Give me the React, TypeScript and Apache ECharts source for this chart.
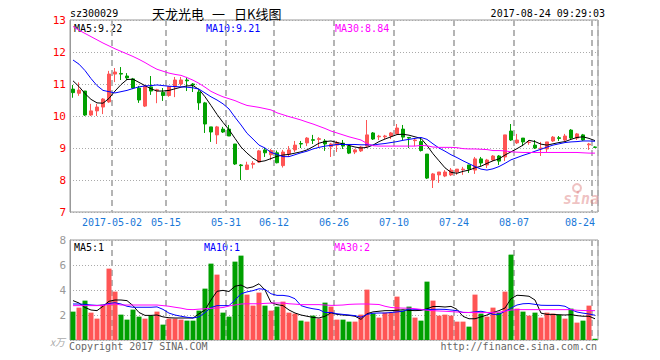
import React, { useEffect, useRef } from 'react';
import * as echarts from 'echarts';

const dates = [
  '2017-04-20','2017-04-21','2017-04-24','2017-04-25','2017-04-26','2017-04-27','2017-04-28',
  '2017-05-02','2017-05-03','2017-05-04','2017-05-05','2017-05-08','2017-05-09','2017-05-10','2017-05-11','2017-05-12','2017-05-15','2017-05-16','2017-05-17','2017-05-18','2017-05-19','2017-05-22','2017-05-23','2017-05-24','2017-05-25','2017-05-26','2017-05-31',
  '2017-06-01','2017-06-02','2017-06-05','2017-06-06','2017-06-07','2017-06-08','2017-06-09','2017-06-12','2017-06-13','2017-06-14','2017-06-15','2017-06-16','2017-06-19','2017-06-20','2017-06-21','2017-06-22','2017-06-23','2017-06-26','2017-06-27','2017-06-28','2017-06-29','2017-06-30',
  '2017-07-03','2017-07-04','2017-07-05','2017-07-06','2017-07-07','2017-07-10','2017-07-11','2017-07-12','2017-07-13','2017-07-14','2017-07-17','2017-07-18','2017-07-19','2017-07-20','2017-07-21','2017-07-24','2017-07-25','2017-07-26','2017-07-27','2017-07-28','2017-07-31',
  '2017-08-01','2017-08-02','2017-08-03','2017-08-04','2017-08-07','2017-08-08','2017-08-09','2017-08-10','2017-08-11','2017-08-14','2017-08-15','2017-08-16','2017-08-17','2017-08-18','2017-08-21','2017-08-22','2017-08-23','2017-08-24'
];

const tickDates = ['2017-05-02','2017-05-15','2017-05-31','2017-06-12','2017-06-26','2017-07-10','2017-07-24','2017-08-07','2017-08-24'];

const opens = [10.84,10.71,10.78,10.03,10.16,10.28,10.44,11.31,11.33,11.25, 11.16,10.875,10.31,10.91,10.79,10.74,10.64,10.91,11.0,11.125, 11.0,10.75,10.41,9.66,9.41,9.59,9.59,9.125,8.47,8.33, 8.49,8.56,8.94,8.79,8.85,8.45,8.81,8.94,9.14,9.16, 9.26,9.27,9.22,9.04,9.09,9.15,9.06,8.875,8.91,9.06, 9.47,9.35,9.35,9.375,9.44,9.59,9.33,9.23,9.2,8.81, 8.0,8.16,8.125,8.16,8.25,8.32,8.47,8.31,8.66,8.47, 8.625,8.75,8.72,9.53,9.16,9.31,9.17,9.09,8.98,8.97, 9.22,9.32,9.25,9.56,9.31,9.41,9.1,9.03];
const closes = [10.73,10.81,10.03,10.16,10.28,10.53,11.31,11.375,11.31,11.19, 10.875,10.5,10.94,10.78,10.82,10.64,10.92,11.125,11.125,11.1, 10.97,10.41,9.75,9.5,9.66,9.5,9.375,8.5,8.45,8.47, 8.52,8.91,8.85,8.92,8.54,8.875,8.94,9.09,9.125,9.31, 9.24,9.29,9.125,9.125,9.17,9.06,8.84,8.94,9.03,9.41, 9.28,9.37,9.375,9.47,9.625,9.34,9.31,9.25,8.92,8.06, 8.19,8.25,8.25,8.31,8.34,8.34,8.34,8.66,8.53,8.625, 8.75,8.59,9.41,9.25,9.25,9.19,9.18,9.0,9.0,9.19, 9.34,9.3,9.375,9.31,9.44,9.25,9.125,9.02];
const lows = [10.57,10.63,10.0,10.0,10.0,10.06,10.41,11.06,11.125,11.125, 10.84,10.41,10.28,10.66,10.4,10.47,10.6,10.59,10.94,10.78, 10.75,10.19,9.47,9.19,9.125,9.47,9.375,8.47,8.0,8.31, 8.36,8.53,8.72,8.62,8.52,8.39,8.72,8.875,9.0,9.06, 9.125,9.03,8.91,8.72,8.875,8.97,8.81,8.81,8.875,9.03, 9.25,9.25,9.28,9.28,9.44,9.25,9.0,9.06,8.89,8.03, 7.75,7.91,8.09,8.125,8.16,8.16,8.22,8.19,8.44,8.375, 8.59,8.47,8.59,9.22,9.125,9.06,9.1,8.97,8.75,8.875, 9.19,9.22,9.22,9.28,9.25,9.22,8.94,9.0];
const highs = [10.97,11.05,10.78,10.38,10.38,10.56,11.41,11.5,11.53,11.34, 11.19,10.94,10.97,11.25,10.85,10.875,10.94,11.22,11.22,11.22, 11.03,10.81,10.44,9.66,9.69,9.66,9.72,9.125,8.5,8.57, 8.59,8.94,9.0,8.97,8.92,8.94,9.06,9.22,9.22,9.34, 9.41,9.34,9.28,9.16,9.22,9.25,9.09,8.97,9.06,9.875, 9.5,9.41,9.41,9.5,9.75,9.72,9.34,9.31,9.3,8.81, 8.22,8.25,8.31,8.375,8.34,8.41,8.47,8.72,8.72,8.66, 8.78,8.78,9.41,9.75,9.44,9.31,9.25,9.25,9.19,9.19, 9.375,9.375,9.44,9.59,9.47,9.44,9.16,9.05];

const ma5 = [11.1,10.92,10.7,10.52,10.41,10.4,10.55,10.78,10.98,11.14, 11.15,11.05,10.95,10.85,10.78,10.78,10.8,10.85,10.9,10.94, 10.95,10.83,10.6,10.33,10.05,9.8,9.57,9.3,9.03,8.84, 8.68,8.57,8.6,8.67,8.74,8.78,8.8,8.84,8.88,8.94, 9.04,9.15,9.2,9.22,9.17,9.13,9.08,9.03,9.0,9.02, 9.09,9.2,9.28,9.35,9.42,9.43,9.4,9.35,9.3,9.08, 8.82,8.6,8.38,8.24,8.21,8.27,8.31,8.38,8.43,8.52, 8.6,8.66,8.78,8.88,8.98,9.09,9.24,9.2,9.12,9.09, 9.13,9.17,9.2,9.27,9.33,9.35,9.3,9.23];
const ma10 = [11.75,11.62,11.42,11.17,10.95,10.8,10.76,10.72,10.76,10.8, 10.86,10.91,10.94,10.95,10.97,10.95,10.93,10.92,10.91,10.9, 10.88,10.84,10.72,10.6,10.5,10.38,10.22,9.96,9.72,9.46, 9.28,9.09,9.0,8.86,8.8,8.73,8.73,8.79,8.85,8.9, 8.97,9.02,9.06,9.08,9.11,9.11,9.11,9.11,9.1,9.1, 9.09,9.12,9.14,9.17,9.2,9.24,9.27,9.3,9.33,9.27, 9.13,9.0,8.9,8.79,8.7,8.6,8.51,8.42,8.34,8.31, 8.35,8.42,8.52,8.63,8.7,8.77,8.83,8.9,8.96,9.03, 9.09,9.13,9.17,9.19,9.2,9.22,9.22,9.21];
const ma30 = [12.8,12.68,12.58,12.48,12.38,12.28,12.19,12.1,12.02,11.94, 11.86,11.77,11.67,11.56,11.46,11.4,11.34,11.3,11.27,11.2, 11.12,11.02,10.9,10.77,10.68,10.6,10.54,10.48,10.4,10.33, 10.3,10.27,10.23,10.19,10.1,10.04,9.98,9.93,9.875,9.81, 9.75,9.68,9.61,9.53,9.47,9.41,9.35,9.3,9.25,9.14, 9.07,9.06,9.06,9.06,9.06,9.06,9.06,9.06,9.08,9.07, 9.03,9.02,9.02,9.02,9.01,8.98,8.97,8.97,8.96,8.95, 8.92,8.92,8.91,8.88,8.87,8.86,8.86,8.86,8.86,8.86, 8.86,8.86,8.86,8.86,8.86,8.85,8.84,8.84];

const volumes = [2.27,2.59,3.15,2.19,1.71,2.83,5.71,3.87,2.03,1.63, 2.43,1.87,1.71,1.95,2.27,1.23,1.71,1.71,1.63,1.55, 1.55,2.35,4.11,6.11,5.23,2.19,1.87,6.27,6.75,3.63, 2.75,3.79,2.75,2.35,2.67,3.07,2.19,2.11,1.55,1.47, 1.95,1.71,2.99,2.67,1.63,1.63,1.47,1.47,2.03,4.03, 2.11,1.79,2.19,2.19,3.47,2.35,2.67,1.79,1.55,4.67, 3.15,1.95,2.03,1.95,1.47,1.47,1.07,3.63,2.11,1.87, 2.59,2.19,3.87,6.83,2.51,2.27,1.95,2.19,1.79,2.19, 2.11,2.03,1.71,2.51,1.39,1.55,2.75,0.1];
const volMa5 = [3.15,2.96,2.6,2.4,2.35,2.7,3.1,3.2,3.2,3.15, 2.75,2.2,1.97,1.97,2.0,1.85,1.78,1.76,1.76,1.76, 1.76,2.1,2.4,3.2,3.9,3.97,3.88,4.3,4.4,4.15, 4.25,4.5,4.0,3.0,2.83,2.75,2.4,2.16,2.0,1.9, 1.81,1.76,1.9,2.18,2.05,2.0,1.97,1.9,1.65,2.1, 2.25,2.3,2.35,2.35,2.38,2.42,2.37,2.35,2.37,2.5, 2.68,2.68,2.64,2.69,2.45,1.89,1.7,1.7,1.85,2.0, 2.2,2.35,2.56,3.3,3.58,3.55,3.5,3.2,2.15,2.05, 2.05,2.02,2.0,2.03,1.95,1.9,1.9,1.7];
const volMa10 = [2.88,2.88,2.85,2.8,2.77,2.8,2.92,2.98,2.88,2.7, 2.62,2.62,2.62,2.62,2.65,2.45,2.15,2.0,1.9,1.82, 1.76,1.85,2.2,2.6,2.75,2.75,2.75,3.2,3.7,3.85, 3.95,4.1,4.05,3.7,3.57,3.57,3.5,3.3,2.75,2.6, 2.5,2.43,2.2,2.2,2.1,2.05,2.0,1.95,1.82,2.05, 2.14,2.16,2.16,2.2,2.25,2.3,2.48,2.45,2.43,2.43, 2.45,2.46,2.45,2.4,2.35,2.2,2.2,2.25,2.3,2.2, 2.05,2.05,2.3,2.55,2.8,2.9,2.92,2.85,2.78,2.77, 2.77,2.77,2.7,2.43,2.24,2.15,2.08,1.98];
const volMa30 = [2.75,2.75,2.75,2.75,2.75,2.77,2.85,2.88,2.8,2.8, 2.8,2.8,2.8,2.8,2.8,2.75,2.7,2.62,2.55,2.45, 2.43,2.47,2.5,2.53,2.56,2.6,2.72,2.8,2.88,2.9, 2.9,2.9,2.93,2.95,2.96,2.96,2.9,2.87,2.83,2.83, 2.83,2.83,2.8,2.77,2.78,2.8,2.85,2.87,2.88,2.88, 2.86,2.84,2.7,2.6,2.57,2.55,2.55,2.5,2.45,2.38, 2.35,2.32,2.3,2.27,2.24,2.22,2.2,2.19,2.19,2.2, 2.21,2.23,2.3,2.4,2.43,2.43,2.43,2.43,2.43,2.43, 2.43,2.43,2.43,2.43,2.38,2.36,2.35,2.35];

const RED = '#ff5555';
const GREEN = '#00a000';
const MONO = '"DejaVu Sans Mono", "Liberation Mono", monospace';
const CJK = '"Noto Sans CJK SC", sans-serif';

export default function App() {
  const ref = useRef<HTMLDivElement>(null);
  useEffect(() => {
    if (!ref.current) return;
    const chart = echarts.init(ref.current, null, { renderer: 'svg' });
    const tickSet = new Set(tickDates);
    const isTick = (i: number) => tickSet.has(dates[i]);
    const candleData = dates.map((_, i) => [opens[i], closes[i], lows[i], highs[i]]);
    const volData = volumes.map((v, i) => ({
      value: v,
      itemStyle: { color: closes[i] >= opens[i] ? RED : GREEN },
    }));
    const splitV = { show: true, interval: (i: number) => isTick(i), lineStyle: { color: '#b4b4b4', width: 2, type: [6, 4] } };
    const lineS = (data: number[], color: string, xi: number) => ({
      type: 'line', data, xAxisIndex: xi, yAxisIndex: xi, symbol: 'none', silent: true,
      lineStyle: { color, width: 1 }, z: 3,
    });
    const txt = (text: string, x: number, y: number, fill: string, extra: any = {}) => ({
      type: 'text', x, y, silent: true,
      style: { text, fill, font: `10px ${MONO}`, verticalAlign: 'middle', align: 'left', ...extra },
    });
    const cjk = (text: string, x: number) => ({
      type: 'text', x, y: 13, silent: true,
      style: { text, fill: '#000', font: `13px ${CJK}`, verticalAlign: 'middle', align: 'left' },
    });
    chart.setOption({
      animation: false,
      backgroundColor: '#ffffff',
      grid: [
        { left: 70, top: 20, width: 528, height: 192, show: true, borderColor: '#999', borderWidth: 1 },
        { left: 70, top: 240, width: 528, height: 100, show: true, borderColor: '#999', borderWidth: 1 },
      ],
      xAxis: [
        {
          type: 'category', gridIndex: 0, data: dates, boundaryGap: true,
          axisLine: { show: false }, axisTick: { show: false },
          axisLabel: {
            interval: (i: number) => isTick(i),
            margin: 5,
            alignMaxLabel: 'right',
            formatter: (v: string) => v === '2017-08-24' ? `{b|${v.slice(5)}}` : `{a|${v === '2017-05-02' ? v : v.slice(5)}}`,
            rich: {
              a: { color: '#1a78d8', fontSize: 10, fontFamily: MONO, padding: [0, 6, 0, 0] },
              b: { color: '#1a78d8', fontSize: 10, fontFamily: MONO },
            },
          },
          splitLine: splitV,
        },
        {
          type: 'category', gridIndex: 1, data: dates, boundaryGap: true,
          axisLine: { show: false }, axisTick: { show: false }, axisLabel: { show: false },
          splitLine: splitV,
        },
      ],
      yAxis: [
        {
          type: 'value', gridIndex: 0, min: 7, max: 13, interval: 1,
          axisLine: { show: true, lineStyle: { color: '#999' } }, axisTick: { show: false },
          axisLabel: { color: '#ff0000', fontSize: 11, fontFamily: MONO, margin: 4 },
          splitLine: { show: true, lineStyle: { color: '#aaaaaa', width: 1, type: [1, 2] } },
        },
        {
          type: 'value', gridIndex: 1, min: 0, max: 8, interval: 2,
          axisLine: { show: true, lineStyle: { color: '#999' } }, axisTick: { show: false },
          axisLabel: { color: '#999999', fontSize: 11, fontFamily: MONO, margin: 4, formatter: (v: number) => (v === 0 ? '' : String(v)) },
          splitLine: { show: true, lineStyle: { color: '#aaaaaa', width: 1, type: [1, 2] } },
        },
      ],
      series: [
        {
          type: 'candlestick', xAxisIndex: 0, yAxisIndex: 0, data: candleData, barWidth: 4, silent: true,
          itemStyle: { color: RED, color0: GREEN, borderColor: RED, borderColor0: GREEN, borderWidth: 1 },
        },
        lineS(ma5, '#000000', 0),
        lineS(ma10, '#0000ff', 0),
        lineS(ma30, '#ff00ff', 0),
        { type: 'bar', xAxisIndex: 1, yAxisIndex: 1, data: volData, barWidth: 5, silent: true },
        lineS(volMa5, '#000000', 1),
        lineS(volMa10, '#0000ff', 1),
        lineS(volMa30, '#ff00ff', 1),
      ],
      graphic: [
        txt('sz300029', 70, 13, '#000'),
        cjk('天龙光电', 152),
        cjk('一', 212),
        cjk('日K线图', 234),
        txt('2017-08-24 09:29:03', 605, 13, '#000', { align: 'right' }),
        txt('MA5:9.22', 74, 28, '#000000'),
        txt('MA10:9.21', 206, 28, '#0000ff'),
        txt('MA30:8.84', 335, 28, '#ff00ff'),
        txt('MA5:1', 74, 247, '#000000'),
        txt('MA10:1', 204, 247, '#0000ff'),
        txt('MA30:2', 334, 247, '#ff00ff'),
        { type: 'text', x: 50, y: 341, silent: true, style: { text: 'x万', fill: '#aaaaaa', font: `italic 10px ${CJK}`, verticalAlign: 'middle' } },
        txt('Copyright 2017 SINA.COM', 69, 346, '#666666'),
        txt('http://finance.sina.com.cn', 597, 346, '#666666', { align: 'right' }),
        { type: 'text', x: 581, y: 199, silent: true, z: 1, style: { text: 'sina', fill: 'rgba(220,120,120,0.45)', font: `italic bold 15px ${MONO}`, align: 'center', verticalAlign: 'middle' } },
        { type: 'circle', shape: { cx: 577, cy: 188, r: 4 }, silent: true, z: 1, style: { fill: 'none', stroke: 'rgba(220,120,120,0.45)', lineWidth: 2 } },
      ],
    });
    return () => chart.dispose();
  }, []);
  return <div ref={ref} style={{ position: 'fixed', left: 0, top: 0, width: 660, height: 360, background: '#fff' }} />;
}
